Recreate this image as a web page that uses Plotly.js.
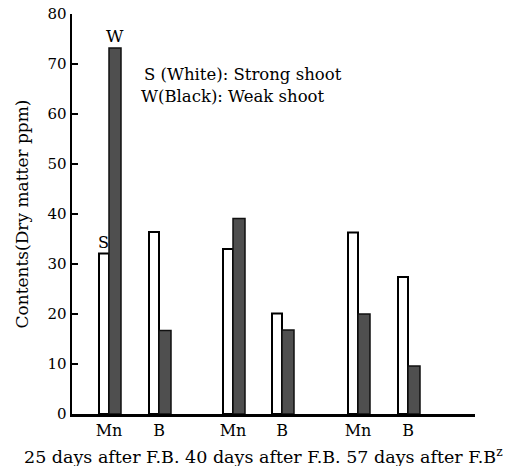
<!DOCTYPE html>
<html>
<head>
<meta charset="utf-8">
<script src="https://cdn.plot.ly/plotly-3.0.1.min.js"></script>
<style>html,body{margin:0;padding:0;background:#fff;}#chart{width:511px;height:466px;}</style>
</head>
<body>
<div id="chart"></div>
<script>
// ---- data ----
const elements = ['Mn', 'B', 'Mn', 'B', 'Mn', 'B'];
const strongShoot = [32.1, 36.4, 33.0, 20.1, 36.3, 27.4];   // S (White)
const weakShoot   = [73.2, 16.7, 39.1, 16.8, 20.0, 9.6];    // W (Black)
const yTickVals = [0, 10, 20, 30, 40, 50, 60, 70, 80];
const periodLabel = '25 days after F.B. 40 days after F.B. 57 days after F.B<sup>z</sup>';

// ---- layout positions (x axis is in px-like units) ----
const xPos = [109, 159, 233, 282, 358, 408];
const serif = 'DejaVu Serif, Liberation Serif, serif';

const traces = [
  {
    type: 'bar', x: xPos, y: strongShoot, name: 'S (White)',
    width: 10, offset: -10,
    marker: {color: '#ffffff', line: {color: '#000', width: 2}},
    hoverinfo: 'y'
  },
  {
    type: 'bar', x: xPos, y: weakShoot, name: 'W (Black)',
    width: 12, offset: 0,
    marker: {color: '#4f4f4f', line: {color: '#111', width: 1.5}},
    hoverinfo: 'y'
  }
];

const layout = {
  width: 511, height: 466,
  margin: {l: 72, r: 36, t: 14, b: 52},
  paper_bgcolor: '#fff', plot_bgcolor: '#fff',
  showlegend: false,
  barmode: 'overlay',
  font: {family: serif, color: '#000'},
  xaxis: {
    range: [72, 475], showgrid: false, zeroline: false,
    showline: true, linecolor: '#000', linewidth: 2.5,
    tickvals: xPos, ticktext: elements, ticks: '',
    tickfont: {family: serif, size: 16, color: '#000'}
  },
  yaxis: {
    range: [0, 80], showgrid: false, zeroline: false,
    showline: true, linecolor: '#000', linewidth: 2.5,
    tickvals: yTickVals, ticks: 'inside', ticklen: 6, tickwidth: 2, tickcolor: '#000',
    tickfont: {family: serif, size: 15, color: '#000'},
    title: {text: 'Contents(Dry matter ppm)', font: {family: serif, size: 17, color: '#000'}, standoff: 15}
  },
  annotations: [
    {x: xPos[0] - 6, y: strongShoot[0], xref: 'x', yref: 'y', text: 'S', showarrow: false,
     yanchor: 'bottom', xanchor: 'center', font: {family: serif, size: 16}},
    {x: xPos[0] + 6, y: weakShoot[0], xref: 'x', yref: 'y', text: 'W', showarrow: false,
     yanchor: 'bottom', xanchor: 'center', font: {family: serif, size: 17}},
    {x: 142, y: 68, xref: 'x', yref: 'y', text: 'S (White): Strong shoot', showarrow: false,
     xanchor: 'left', yanchor: 'middle', font: {family: serif, size: 16.5}},
    {x: 139, y: 63.6, xref: 'x', yref: 'y', text: 'W(Black): Weak shoot', showarrow: false,
     xanchor: 'left', yanchor: 'middle', font: {family: serif, size: 16.5}},
    {x: 263.5, y: -0.105, xref: 'x', yref: 'paper', text: periodLabel, showarrow: false,
     xanchor: 'center', yanchor: 'middle', font: {family: serif, size: 17.5}}
  ]
};

Plotly.newPlot('chart', traces, layout, {staticPlot: true, displayModeBar: false});
</script>
</body>
</html>
